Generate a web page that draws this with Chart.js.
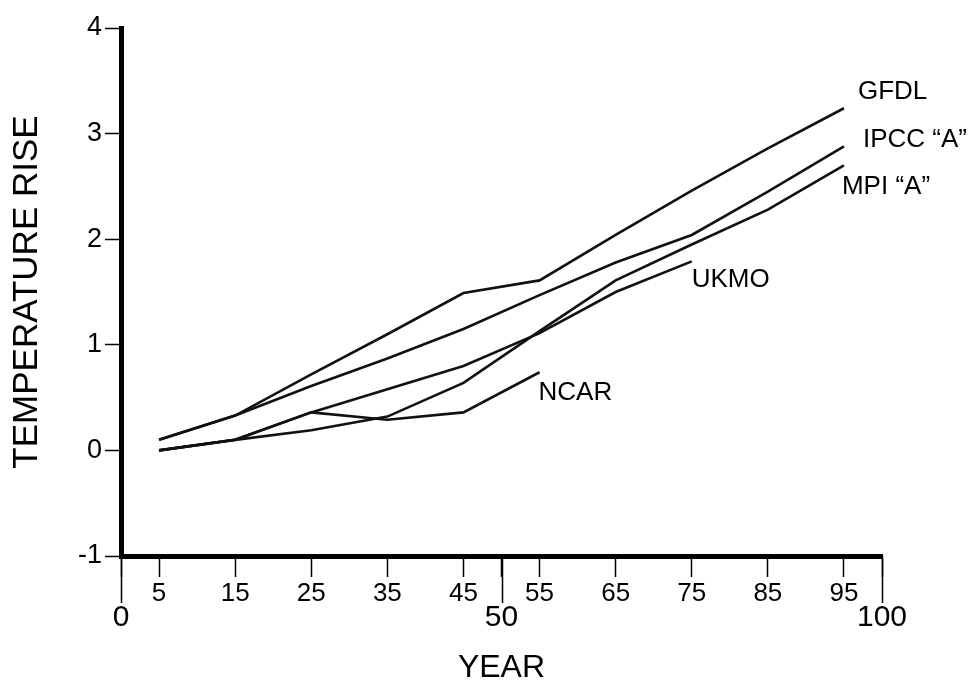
<!DOCTYPE html>
<html>
<head>
<meta charset="utf-8">
<title>Temperature rise</title>
<script src="https://cdn.jsdelivr.net/npm/chart.js@4.4.1/dist/chart.umd.min.js"></script>
<style>
  body { margin: 0; background: #fff; }
  canvas { display: block; }
</style>
</head>
<body>
<canvas id="chart" width="973" height="684"></canvas>
<script>
// values
const years = [5, 15, 25, 35, 45, 55, 65, 75, 85, 95];
const gfdl = [0.10, 0.33, 0.72, 1.10, 1.49, 1.61, 2.04, 2.46, 2.86, 3.24];
const ipcc = [0.10, 0.33, 0.61, 0.87, 1.15, 1.47, 1.78, 2.04, 2.45, 2.88];
const mpi  = [0.00, 0.10, 0.19, 0.32, 0.64, 1.13, 1.61, 1.95, 2.28, 2.70];
const ukmo = [0.00, 0.10, 0.36, 0.58, 0.80, 1.11, 1.50, 1.79];
const ncar = [0.00, 0.10, 0.36, 0.29, 0.36, 0.74];
const seriesNames = ['GFDL', 'IPCC \u201CA\u201D', 'MPI \u201CA\u201D', 'UKMO', 'NCAR'];

const minorYears = [5, 15, 25, 35, 45, 55, 65, 75, 85, 95];
const majorYears = [0, 50, 100];
const tempTicks = [-1, 0, 1, 2, 3, 4];

// where each name sits relative to the end of its line (px)
const labelOffsets = [
    { dx: 14, dy: -16 },
    { dx: 19, dy: -6 },
    { dx: -2, dy: 22 },
    { dx: 0, dy: 18 },
    { dx: -1, dy: 21 }
];

function toPoints(values) {
    return values.map((v, i) => ({ x: years[i], y: v }));
}

const seriesValues = [gfdl, ipcc, mpi, ukmo, ncar];

const lineLabels = {
    id: 'lineLabels',
    afterDraw(chart) {
        const ctx = chart.ctx;
        const xScale = chart.scales.x;
        ctx.save();
        // long ticks at 0, 50, 100
        ctx.strokeStyle = '#000';
        ctx.lineWidth = 1.5;
        majorYears.forEach(v => {
            const px = Math.round(xScale.getPixelForValue(v)) + 0.5;
            ctx.beginPath();
            ctx.moveTo(px, xScale.top);
            ctx.lineTo(px, xScale.top + 47);
            ctx.stroke();
        });
        ctx.fillStyle = '#000';
        ctx.font = '26px "Liberation Sans", Arial, sans-serif';
        ctx.textAlign = 'left';
        ctx.textBaseline = 'middle';
        chart.data.datasets.forEach((ds, i) => {
            const meta = chart.getDatasetMeta(i);
            const last = meta.data[meta.data.length - 1];
            const off = labelOffsets[i];
            ctx.fillText(ds.label, last.x + off.dx, last.y + off.dy);
        });
        ctx.restore();
    }
};

Chart.defaults.color = '#000';
Chart.defaults.font.family = '"Liberation Sans", Arial, sans-serif';

new Chart(document.getElementById('chart'), {
    type: 'scatter',
    data: {
        datasets: seriesValues.map((vals, i) => ({
            label: seriesNames[i],
            data: toPoints(vals),
            showLine: true,
            borderColor: '#111',
            backgroundColor: '#111',
            borderWidth: 2.6,
            pointRadius: 0,
            tension: 0
        }))
    },
    options: {
        responsive: false,
        animation: false,
        layout: { padding: { left: 0, top: 28, right: 91, bottom: 0 } },
        plugins: {
            legend: { display: false },
            tooltip: { enabled: false }
        },
        scales: {
            x: {
                type: 'linear',
                min: majorYears[0],
                max: majorYears[majorYears.length - 1],
                afterFit: scale => { scale.height = 128; },
                afterBuildTicks: scale => {
                    scale.ticks = majorYears.concat(minorYears)
                        .sort((a, b) => a - b)
                        .map(v => ({ value: v }));
                },
                grid: {
                    drawOnChartArea: false,
                    tickLength: 21,
                    tickWidth: 1.5,
                    tickColor: '#000'
                },
                border: { display: true, color: '#000', width: 5 },
                ticks: {
                    autoSkip: false,
                    maxRotation: 0,
                    padding: 1,
                    color: '#000',
                    font: ctx => majorYears.includes(ctx.tick && ctx.tick.value)
                        ? { size: 30, lineHeight: 0.89 }
                        : { size: 26 },
                    callback: v => majorYears.includes(v) ? ['', String(v)] : String(v)
                },
                title: {
                    display: true,
                    text: 'YEAR',
                    color: '#000',
                    font: { size: 32, lineHeight: 1 },
                    padding: { top: 0, bottom: 0 }
                }
            },
            y: {
                min: tempTicks[0],
                max: tempTicks[tempTicks.length - 1],
                afterFit: scale => { scale.width = 121; },
                grid: {
                    drawOnChartArea: false,
                    tickLength: 16,
                    tickWidth: 1.5,
                    tickColor: '#000'
                },
                border: { display: true, color: '#000', width: 5 },
                ticks: {
                    stepSize: 1,
                    padding: 3,
                    color: '#000',
                    font: { size: 27 }
                },
                title: {
                    display: true,
                    text: 'TEMPERATURE RISE',
                    color: '#000',
                    font: { size: 35, lineHeight: 1 },
                    padding: { top: 10, bottom: 0 }
                }
            }
        }
    },
    plugins: [lineLabels]
});
</script>
</body>
</html>
